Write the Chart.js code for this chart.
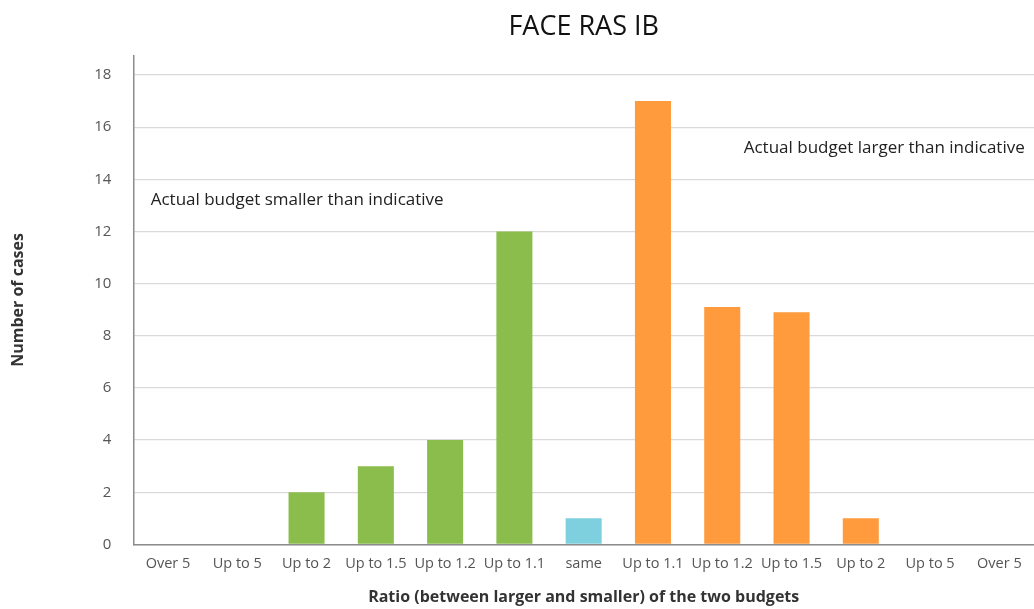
<!DOCTYPE html>
<html>
<head>
<meta charset="utf-8">
<title>FACE RAS IB</title>
<script src="https://cdn.jsdelivr.net/npm/chart.js@4/dist/chart.umd.min.js"></script>
<style>
  html, body { margin: 0; padding: 0; background: #fff; }
  #wrap { width: 1034px; height: 609px; }
</style>
</head>
<body>
<div id="wrap"><canvas id="chart"></canvas></div>
<script>
const categories = ['Over 5', 'Up to 5', 'Up to 2', 'Up to 1.5', 'Up to 1.2', 'Up to 1.1', 'same',
                    'Up to 1.1', 'Up to 1.2', 'Up to 1.5', 'Up to 2', 'Up to 5', 'Over 5'];
const cases = [0, 0, 2, 3, 4, 12, 1, 17, 9.1, 8.9, 1, 0, 0];
const yTicks = [0, 2, 4, 6, 8, 10, 12, 14, 16, 18];

const GREEN = '#8bbd4d', BLUE = '#7fd0de', ORANGE = '#ff9a3d';
const barColors = categories.map((c, i) => i < 6 ? GREEN : (i === 6 ? BLUE : ORANGE));

const FONT = "'Open Sans', sans-serif";

// side notes, anchored in data space
const notes = [
  { text: 'Actual budget smaller than indicative', at: 0.25, value: 13.2 },
  { text: 'Actual budget larger than indicative', at: 8.81, value: 15.2 }
];

const notesPlugin = {
  id: 'notes',
  afterDatasetsDraw(chart) {
    const { ctx, scales } = chart;
    ctx.save();
    ctx.font = '17px ' + FONT;
    ctx.fillStyle = '#222';
    ctx.textBaseline = 'middle';
    notes.forEach(n => {
      const x = scales.x.getPixelForValue(n.at) - scales.x.width / categories.length / 2;
      ctx.fillText(n.text, x, scales.y.getPixelForValue(n.value));
    });
    ctx.restore();
  }
};

new Chart(document.getElementById('chart'), {
  type: 'bar',
  data: {
    labels: categories,
    datasets: [{
      label: 'Number of cases',
      data: cases,
      backgroundColor: barColors,
      categoryPercentage: 1,
      barPercentage: 0.52
    }]
  },
  options: {
    responsive: true,
    maintainAspectRatio: false,
    animation: false,
    layout: { padding: { top: 11, left: 9, right: 0, bottom: 2 } },
    plugins: {
      legend: { display: false },
      tooltip: { enabled: false },
      title: {
        display: true,
        fullSize: false,
        text: 'FACE RAS IB',
        color: '#111',
        font: { family: FONT, size: 27, weight: 'normal' },
        padding: { top: 0, bottom: 12 }
      }
    },
    scales: {
      x: {
        grid: { display: false },
        border: { display: true, color: '#8c8c8c', width: 1.5 },
        ticks: { color: '#555', font: { family: FONT, size: 14.5 }, padding: 3, maxRotation: 0, autoSkip: false },
        title: {
          display: true,
          text: 'Ratio (between larger and smaller) of the two budgets',
          color: '#333',
          font: { family: FONT, size: 16, weight: 'bold' },
          padding: { top: 12, bottom: 0 }
        }
      },
      y: {
        min: 0,
        max: 18.75,
        afterBuildTicks: axis => { axis.ticks = yTicks.map(v => ({ value: v })); },
        grid: { color: '#d9d9d9', lineWidth: 1.2, drawTicks: false },
        border: { display: true, color: '#8c8c8c', width: 1.5 },
        ticks: { color: '#555', font: { family: FONT, size: 15 }, padding: 22 },
        title: {
          display: true,
          text: 'Number of cases',
          color: '#333',
          font: { family: FONT, size: 16, weight: 'bold' },
          padding: { top: 0, bottom: 44 }
        }
      }
    }
  },
  plugins: [notesPlugin]
});
</script>
</body>
</html>
